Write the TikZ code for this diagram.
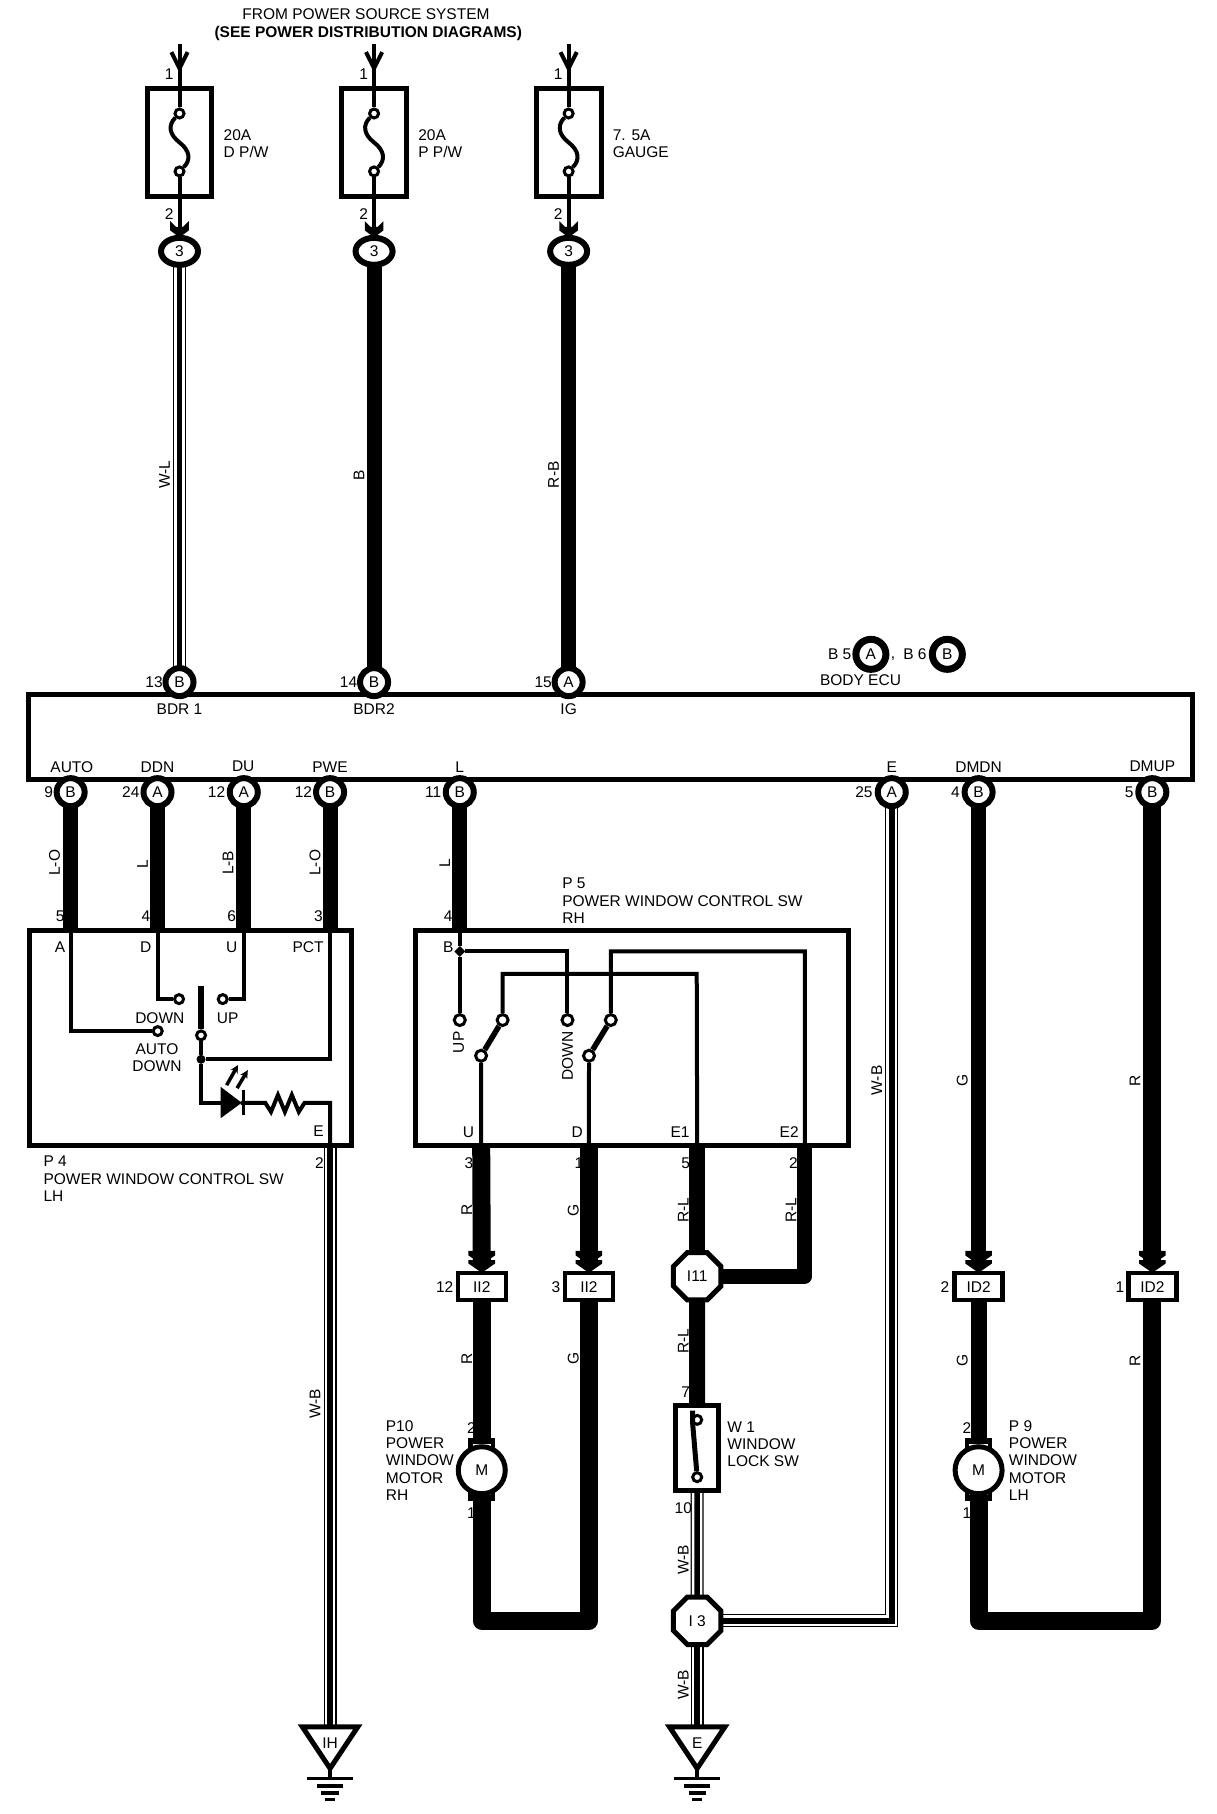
\documentclass[tikz,border=0pt]{standalone}
\usepackage{fontspec}
\setmainfont{Liberation Sans}
\usepackage{tikz}
\usetikzlibrary{backgrounds}
\usetikzlibrary{fit}
\usetikzlibrary{shapes.geometric}
\usetikzlibrary{arrows.meta}
\tikzset{
    lbl/.style={font=\fontsize{15.5}{17.4}\selectfont, inner sep=0pt, align=left},
    boxpart/.style={draw, line width=5pt, inner sep=0pt, outer sep=0pt},
    pin/.style={circle, draw, fill=white, line width=6pt, minimum size=28pt, inner sep=0pt, font=\fontsize{15.5}{15}\selectfont},
    oval/.style={ellipse, draw, fill=white, line width=6pt, minimum width=37pt, minimum height=27pt, inner sep=0pt, font=\fontsize{15.5}{15}\selectfont},
    conn/.style={rectangle, draw, fill=white, line width=4.5pt, minimum width=48pt, minimum height=27pt, inner sep=0pt, font=\fontsize{15.5}{15}\selectfont},
    octa/.style={regular polygon, regular polygon sides=8, draw, fill=white, line width=5pt, minimum size=51.4pt, inner sep=0pt, font=\fontsize{15.5}{15}\selectfont},
    term/.style={circle, draw, fill=white, line width=3pt, minimum size=9pt, inner sep=0pt},
    thinwire/.style={line width=4pt, line join=miter},
    narrowwire/.style={line width=15pt, line join=round},
    thickwire/.style={line width=18pt, line join=round},
    twowire/.style={line width=5.5pt, line join=miter, preaction={draw, line width=13pt}, preaction={draw, white, line width=10.6pt}},
    chevs/.pic={
        \fill (-11.5,-19)--(11.5,-19)--(11.5,-15)--(0,-7)--(-11.5,-15)--cycle;
        \fill (-11.5,-11)--(11.5,-11)--(11.5,-8)--(0,0)--(-11.5,-8)--cycle;
    },
    chevone/.pic={
        \fill (-8,-14)--(-3,-9)--(3,-9)--(8,-14)--(8,-6)--(0,0)--(-8,-6)--cycle;
    }
}
\begin{document}
\begin{tikzpicture}[x=1.1581pt,y=-1.1581pt]
\useasboundingbox (0,0) rectangle (1050,1566.35);
% fuses
\foreach \x/\n/\t in {155/a/{20A\\D P/W}, 323/b/{20A\\P P/W}, 491/c/{7. 5A\\GAUGE}}{
    \coordinate (top\n) at (\x,38);
    \node (fuse\n) [boxpart, fit={(\x-28,76)(\x+28,170)}] {};
    \node (fut\n) at (\x,98)[term] {};
    \node (fub\n) at (\x,148)[term] {};
    \node (ov\n) at (\x,217)[oval] {3};
    \node (ftxt\n) at (\x+38,124)[lbl, right] {\t};
    \draw[line width=4pt] (top\n) -- (fut\n);
    \draw[line width=4pt] (\x-7,45) -- (\x,59) -- (\x+7,45);
    \draw[line width=4pt] (fut\n) .. controls (\x-10,108) and (\x-9,116) .. (\x,123) .. controls (\x+9,130) and (\x+10,138) .. (fub\n);
    \draw[line width=4pt] (fub\n) -- (ov\n);
    \pic at (\x,205) {chevone};
}
% body ecu
\node (ecu) [boxpart, fit={(25,600)(1030,673)}] {};
\foreach \x/\p/\l in {155/bdra/B, 323/bdrb/B, 491/ig/A}{
    \node (\p) at (\x,589)[pin] {\l};
}
\foreach \x/\p/\l in {61/auto/B, 136/ddn/A, 210.5/du/A, 285/pwe/B, 397/lin/B, 770/ein/A, 845/dmdn/B, 995/dmup/B}{
    \node (\p) at (\x,684)[pin] {\l};
}
\node (capa) at (752,565)[pin, minimum size=30pt, line width=7pt] {A};
\node (capb) at (818,565)[pin, minimum size=30pt, line width=7pt] {B};
% switch boxes
\node (pfour) [boxpart, fit={(25.5,803.5)(303.5,989)}] {};
\node (pfive) [boxpart, fit={(358.8,803.5)(732.8,989)}] {};
\foreach \x/\n/\t in {416/iia/II2, 508.5/iib/II2, 845/ida/ID2, 995/idb/ID2}{
    \node (\n) at (\x,1111)[conn] {\t};
    \coordinate (ch\n) at (\x,1088);
    \pic at (\x,1099) {chevs};
}
\node (ieleven) at (602,1102)[octa] {I11};
\node (ithree) at (602,1399.5)[octa] {I 3};
% motors
\foreach \x/\n in {416/mr, 845/ml}{
    \fill (\x-11.5,1242) rectangle (\x+11.5,1296);
    \fill[white] (\x-8,1247) rectangle (\x+8,1249);
    \fill[white] (\x-8,1289) rectangle (\x+8,1291);
    \node (\n) at (\x,1269.5)[pin, minimum size=47pt, line width=5pt] {M};
}
\node (wone) [boxpart, fit={(583.3,1213.8)(620.5,1287)}] {};
\node (wa) at (602,1226)[term] {};
\node (wb) at (602,1275.5)[term] {};
\draw[line width=5pt] (598,1218) -- (598,1228) -- (wb);
% ground
\foreach \x/\n/\t in {285/ih/IH, 602/ie/E}{
    \coordinate (\n) at (\x,1491);
    \draw[line width=5pt, line join=miter] (\x-24,1491) -- (\x+24,1491) -- (\x,1527) -- cycle;
    \draw[line width=3.5pt] (\x,1527) -- (\x,1535.5);
    \draw[line width=3.5pt] (\x-20,1535.5) -- (\x+20,1535.5);
    \draw[line width=3.5pt] (\x-11,1542) -- (\x+11,1542);
    \draw[line width=3.5pt] (\x-7.5,1548) -- (\x+7.5,1548);
    \draw[line width=3pt] (\x-4.5,1554) -- (\x+4.5,1554);
    \node (txt\n) at (\x,1505)[lbl] {\t};
}
% wires
\coordinate (fa) at (61,803.5);
\coordinate (fd) at (136,803.5);
\coordinate (fu) at (210.5,803.5);
\coordinate (fp) at (285,803.5);
\coordinate (fe) at (285,989);
\coordinate (vb) at (397,803.5);
\coordinate (vu) at (415.5,989);
\coordinate (vd) at (508.5,989);
\coordinate (vea) at (602,989);
\coordinate (veb) at (695,989);
\begin{scope}[on background layer]
\foreach \s/\e in {ovb/bdrb, ovc/ig, auto/fa, ddn/fd, du/fu, pwe/fp, lin/vb}{
    \draw[narrowwire] (\s.center) -- (\e.center);
}
\draw[twowire] (ova.center) -- (bdra.center);
\draw[twowire] (fe) -- (ih);
\draw[narrowwire] (dmdn.center) -- (chida);
\draw[thickwire] (dmup.center) -- (chidb);
\draw[thickwire] (vu) -- (chiia);
\draw[thickwire] (vd) -- (chiib);
\draw[narrowwire, line width=16pt] (vea) -- (ieleven.center);
\draw[narrowwire] (veb) -- (695,1102) -- (ieleven.center);
\draw[narrowwire, line width=16pt] (ieleven.center) -- (wone.north);
\draw[twowire] (wone.south) -- (ithree.center);
\draw[twowire] (ithree.center) -- (ie);
\draw[twowire] (ithree.center) -- (770,1399.5) -- (ein.center);
\draw[thickwire] (mr.center) -- (iia.center);
\draw[thickwire] (mr.center) -- (416,1399.5) -- (508.5,1399.5) -- (iib.center);
\draw[narrowwire, line width=16pt] (ml.center) -- (ida.center);
\draw[thickwire] (ml.center) -- (845,1399.5) -- (995,1399.5) -- (idb.center);
\end{scope}
% inside p4
\node (tauto) at (136.2,890.3)[term] {};
\node (tdown) at (154.6,862.7)[term] {};
\node (tup) at (192.3,862.7)[term] {};
\node (tarm) at (173.6,894)[term] {};
\node (jct) at (173.6,914.7)[circle, fill, minimum size=9pt, inner sep=0pt] {};
\coordinate (led) at (173.6,952.2);
\draw[thinwire] (fa) |- (tauto);
\draw[thinwire] (fd) |- (tdown);
\draw[thinwire] (fu) |- (tup);
\draw[thinwire] (fp) |- (jct);
\draw[line width=5.5pt] (173.6,851) -- (tarm);
\draw[thinwire] (tarm) -- (jct);
\draw[thinwire] (jct) -- (led) -- (191,952.2);
\fill (190.6,938.5) -- (208.7,952.2) -- (190.6,965.5) -- cycle;
\draw[line width=3pt] (210,941) -- (210,963);
\draw[thinwire] (208,952.2) -- (229,952.2) -- (234,960) -- (240,945.5) -- (246,960) -- (252,945.5) -- (258,960) -- (263,952.2) -- (285,952.2) -- (fe);
\draw[line width=3.5pt, -{Stealth[length=8pt,width=8pt]}] (195.7,937) -- (205.5,919.6);
\draw[line width=3.5pt, -{Stealth[length=8pt,width=8pt]}] (204.7,939.6) -- (214,924);
% inside p5
\node (jb) at (397,821.5)[diamond, fill, minimum size=11pt, inner sep=0pt] {};
\node (tvu) at (397,880.8)[term, minimum size=11pt] {};
\node (tvd) at (490,880.8)[term, minimum size=11pt] {};
\node (swa) at (434,880.8)[term, minimum size=11pt] {};
\node (swb) at (527.4,880.8)[term, minimum size=11pt] {};
\node (swc) at (415.4,911.6)[term, minimum size=11pt] {};
\node (swd) at (508.6,911.6)[term, minimum size=11pt] {};
\draw[thinwire] (vb) -- (jb) -- (tvu);
\draw[thinwire] (jb) -| (tvd);
\draw[thinwire] (swa) |- (601.6,841) -- (vea);
\draw[thinwire] (swb) |- (694.9,821.5) -- (veb);
\draw[thinwire] (swc) -- (vu);
\draw[thinwire] (swd) -- (vd);
\draw[line width=5.5pt] (swa) -- (swc);
\draw[line width=5.5pt] (swb) -- (swd);
% texts
\foreach \x/\y/\t [count=\i] in {316/12/FROM POWER SOURCE SYSTEM, 146/64/1, 314/64/1, 482/64/1, 146/185/2, 314/185/2, 482/185/2,
    133/589/13, 301/589/14, 469/589/15, 155/612/BDR 1, 323/612/BDR2, 491/612/IG,
    62/662/AUTO, 136/662/DDN, 210/662/DU, 285/662/PWE, 397/662/L, 770/662/E, 845/662/DMDN, 995/662/DMUP,
    42/684/9, 113/684/24, 187/684/12, 262/684/12, 374/684/11, 746/684/25, 825/684/4, 975/684/5,
    725/565/B 5, 771/569/{,}, 790/565/B 6, 743/587/BODY ECU,
    52/791/5, 126/791/4, 200/791/6, 275/791/3, 387/791/4,
    51.8/817.5/A, 125.8/817.5/D, 200/817.5/U, 266/817.5/PCT, 138/879/DOWN, 196.6/879/UP, 275/977/E, 275.8/1004/2,
    387/818/B, 404.5/977.3/U, 498.4/977.3/D, 587.2/977.3/E1, 681.4/977.3/E2, 405/1004/3, 500/1004/1, 592/1004/5, 685/1004/2,
    384/1111/12, 480/1111/3, 816/1111/2, 967/1111/1, 407/1233/2, 407/1307/1, 592/1202/7, 590/1302/10, 835/1233/2, 835/1307/1}{
    \node (t\i) at (\x,\y)[lbl] {\t};
}
\node (tsee) at (318,29)[lbl, font=\fontsize{15.5}{17}\selectfont\bfseries] {(SEE POWER DISTRIBUTION DIAGRAMS)};
\node (tautodown) at (135.5,913.5)[lbl, align=center] {AUTO\\DOWN};
\node (tpfour) at (37.4,1006)[lbl, anchor=north west, yshift=9pt] {P 4\\POWER WINDOW CONTROL SW\\LH};
\node (tpfive) at (485.4,766)[lbl, anchor=north west, yshift=9pt] {P 5\\POWER WINDOW CONTROL SW\\RH};
\node (tpten) at (333,1234)[lbl, anchor=north west, yshift=9pt] {P10\\POWER\\WINDOW\\MOTOR\\RH};
\node (tpnine) at (871,1234)[lbl, anchor=north west, yshift=9pt] {P 9\\POWER\\WINDOW\\MOTOR\\LH};
\node (twone) at (628,1235)[lbl, anchor=north west, yshift=9pt] {W 1\\WINDOW\\LOCK SW};
\foreach \x/\y/\t [count=\i] in {142/410/W-L, 310/410/B, 478/410/R-B, 47/745/L-O, 123/746/L, 197/745/L-B, 272/745/L-O, 384/745/L,
    757/933/W-B, 831/933/G, 980/933/R, 403/1045/R, 495/1045/G, 590/1045/R-L, 683/1045/R-L, 403/1173/R, 495/1173/G, 590/1158/R-L,
    831/1175/G, 980/1175/R, 272/1212/W-B, 590/1347/W-B, 590/1455/W-B, 396/900/UP, 490/912/DOWN}{
    \node (w\i) at (\x,\y)[lbl, rotate=90] {\t};
}
\end{tikzpicture}
\end{document}
